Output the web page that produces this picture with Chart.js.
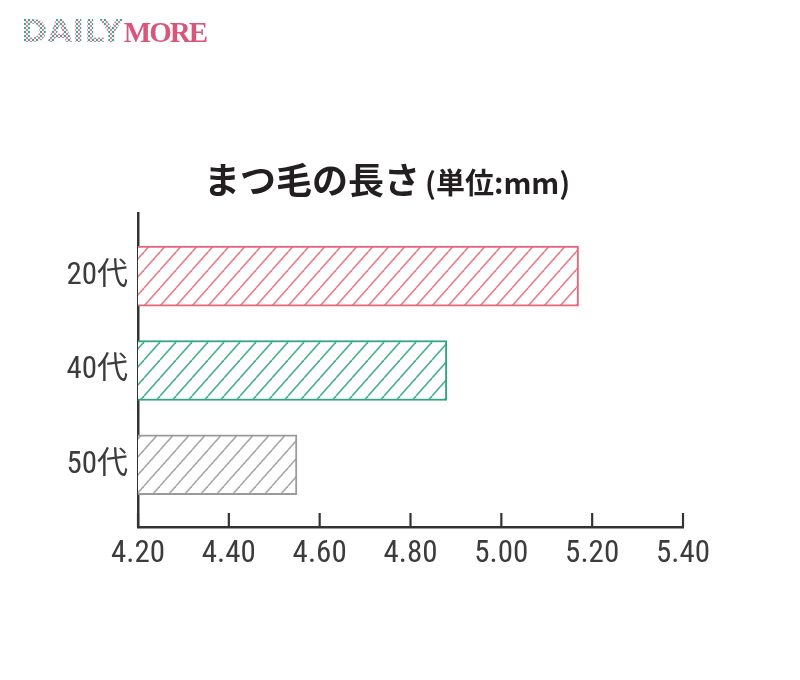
<!DOCTYPE html>
<html lang="ja">
<head>
<meta charset="UTF-8">
<title>まつ毛の長さ</title>
<script src="https://cdn.jsdelivr.net/npm/chart.js"></script>
<style>
  html, body { margin: 0; padding: 0; background: #fff; }
  .wrap { position: relative; width: 800px; height: 680px; }
  .logo { position: absolute; left: 21px; top: 15px; white-space: nowrap; line-height: 1; }
  .logo .daily {
    font-family: 'DejaVu Sans', sans-serif; font-weight: bold; font-size: 32px; letter-spacing: 0;
    color: transparent;
    background:
      radial-gradient(circle, #e8789a 0 1.3px, transparent 1.6px) 0 0 / 4px 4px,
      radial-gradient(circle, #3aaa98 0 1.3px, transparent 1.6px) 2px 2px / 4px 4px;
    -webkit-background-clip: text; background-clip: text;
  }
  .logo .more {
    font-family: 'Liberation Serif', serif; font-weight: bold; font-size: 29px; color: #d9557a; letter-spacing: -2px;
    margin-left: 1px;
  }
  .title {
    position: absolute; left: 204px; top: 160px; white-space: nowrap;
    font-family: 'Noto Sans CJK JP', sans-serif; font-weight: bold; color: #231f20; line-height: 1;
  }
  .title .main { font-size: 36px; }
  .title .unit { font-size: 29px; margin-left: 5px; }
  canvas { position: absolute; left: 0; top: 0; }
</style>
</head>
<body>
<div class="wrap">
  <canvas id="chart" width="800" height="680"></canvas>
  <div class="logo"><span class="daily">DAILY</span><span class="more">MORE</span></div>
  <div class="title"><span class="main">まつ毛の長さ</span><span class="unit">(単位:mm)</span></div>
</div>
<script>
  const ages = ['20代', '40代', '50代'];
  const lengths = [5.17, 4.88, 4.55];
  const xTicks = [4.20, 4.40, 4.60, 4.80, 5.00, 5.20, 5.40];
  const borderColors = ['#e2677b', '#2fa57c', '#9a9a9a'];
  const hatchColors = ['#e8808f', '#48b28c', '#a8a8a8'];

  const labelFont = "'Roboto Condensed', 'Liberation Sans Narrow', 'DejaVu Sans Condensed', 'Noto Sans CJK JP', sans-serif";

  function hatch(color) {
    const w = 16, h = 18;
    const c = document.createElement('canvas');
    c.width = w; c.height = h;
    const g = c.getContext('2d');
    g.fillStyle = '#fff';
    g.fillRect(0, 0, w, h);
    g.strokeStyle = color;
    g.lineWidth = 1.6;
    [-w, 0, w].forEach(dx => {
      g.beginPath();
      g.moveTo(dx, h);
      g.lineTo(dx + w, 0);
      g.stroke();
    });
    return g.createPattern(c, 'repeat');
  }

  // tick marks pointing up into the plot area
  const innerTicks = {
    id: 'innerTicks',
    afterDraw(chart) {
      const ctx = chart.ctx;
      const x = chart.scales.x;
      const bottom = chart.chartArea.bottom;
      ctx.save();
      ctx.strokeStyle = '#333';
      ctx.lineWidth = 2.2;
      x.ticks.forEach(t => {
        const px = x.getPixelForValue(t.value);
        ctx.beginPath();
        ctx.moveTo(px, bottom);
        ctx.lineTo(px, bottom - 14);
        ctx.stroke();
      });
      ctx.restore();
    }
  };

  new Chart(document.getElementById('chart'), {
    type: 'bar',
    data: {
      datasets: [{
        data: ages.map((a, i) => ({ x: lengths[i], y: i })),
        backgroundColor: hatchColors.map(hatch),
        borderColor: borderColors,
        borderWidth: 2,
        barThickness: 60
      }]
    },
    options: {
      indexAxis: 'y',
      responsive: false,
      animation: false,
      layout: { padding: { top: 213, right: 117, bottom: 0, left: 0 } },
      plugins: { legend: { display: false }, tooltip: { enabled: false } },
      scales: {
        x: {
          type: 'linear',
          min: 4.2,
          max: 5.4,
          afterBuildTicks: scale => { scale.ticks = xTicks.map(v => ({ value: v })); },
          afterFit: scale => { scale.height = 153; },
          grid: { display: false, drawTicks: false },
          border: { display: true, color: '#333', width: 2.5 },
          ticks: {
            padding: 9,
            color: '#3c3c3c',
            font: { family: labelFont, size: 31 },
            callback: v => Number(v).toFixed(2)
          }
        },
        y: {
          type: 'linear',
          reverse: true,
          offset: false,
          min: -0.67,
          max: 2.66,
          afterBuildTicks: scale => { scale.ticks = ages.map((a, i) => ({ value: i })); },
          afterFit: scale => { scale.width = 138; },
          grid: { display: false, drawTicks: false },
          border: { display: true, color: '#333', width: 2.5 },
          ticks: {
            padding: 10,
            color: '#3c3c3c',
            font: { family: labelFont, size: 31 },
            callback: v => ages[v]
          }
        }
      }
    },
    plugins: [innerTicks]
  });
</script>
</body>
</html>
